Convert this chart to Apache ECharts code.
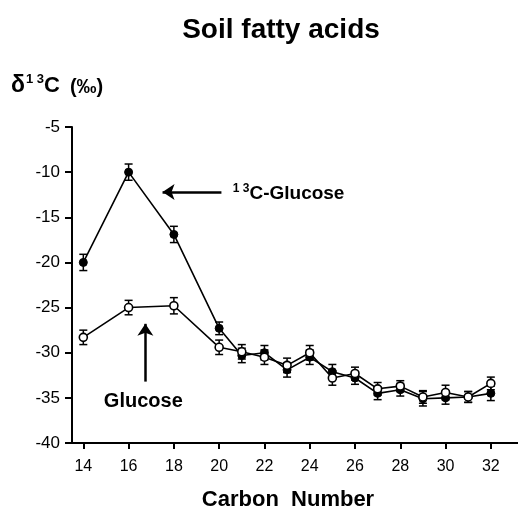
<!DOCTYPE html>
<html>
<head>
<meta charset="utf-8">
<script src="https://cdn.jsdelivr.net/npm/echarts@6/dist/echarts.min.js"></script>
<style>
  html, body { margin: 0; padding: 0; background: #fff; }
  #chart { width: 518px; height: 509px; }
</style>
</head>
<body>
<div id="chart"></div>
<script>
// carbon chain length of the fatty acids
var carbon = [14, 16, 18, 20, 21, 22, 23, 24, 25, 26, 27, 28, 29, 30, 31, 32];
// 13C-glucose treatment (filled circles)
var labelled = [-20, -10, -16.9, -27.3, -30.3, -30.0, -31.9, -30.5, -32.1, -32.8, -34.5, -34.1, -35.1, -35.0, -34.9, -34.5];
var labelledErr = [0.9, 0.9, 0.9, 0.7, 0.8, 0.8, 0.8, 0.8, 0.8, 0.7, 0.7, 0.7, 0.8, 0.7, 0.6, 0.8];
// unlabelled glucose (open circles)
var glucose = [-28.3, -25.0, -24.8, -29.4, -29.9, -30.5, -31.4, -30.0, -32.8, -32.3, -34.0, -33.7, -34.9, -34.4, -34.9, -33.4];
var glucoseErr = [0.8, 0.8, 0.9, 0.8, 0.8, 0.8, 0.8, 0.8, 0.8, 0.7, 0.7, 0.6, 0.7, 0.8, 0.6, 0.7];
var xTicks = [14, 16, 18, 20, 22, 24, 26, 28, 30, 32];

var FONT = "'Liberation Sans', Arial, Helvetica, sans-serif";

function pairs(ys) {
  return carbon.map(function (c, i) { return [c, ys[i]]; });
}
function errData(ys, es) {
  return carbon.map(function (c, i) { return [c, ys[i] - es[i], ys[i] + es[i]]; });
}

// error bar with small caps
function renderErr(params, api) {
  var lo = api.coord([api.value(0), api.value(1)]);
  var hi = api.coord([api.value(0), api.value(2)]);
  var w = 4;
  var st = { stroke: '#000', lineWidth: 1.5 };
  return {
    type: 'group',
    children: [
      { type: 'line', shape: { x1: lo[0], y1: lo[1], x2: hi[0], y2: hi[1] }, style: st },
      { type: 'line', shape: { x1: lo[0] - w, y1: lo[1], x2: lo[0] + w, y2: lo[1] }, style: st },
      { type: 'line', shape: { x1: hi[0] - w, y1: hi[1], x2: hi[0] + w, y2: hi[1] }, style: st }
    ]
  };
}

var chart = echarts.init(document.getElementById('chart'));
chart.setOption({
  animation: false,
  backgroundColor: '#fff',
  title: [
    {
      text: 'Soil fatty acids',
      left: 276,
      textAlign: 'center',
      top: 11,
      textStyle: { fontFamily: FONT, fontSize: 28, fontWeight: 'bold', color: '#000' }
    },
    {
      // y axis name
      text: '{d|δ}{s|1 3}{c|C}  {p|(‰)}',
      left: 6,
      top: 68,
      textStyle: {
        rich: {
          d: { fontFamily: FONT, fontSize: 23, fontWeight: 'bold', color: '#000', verticalAlign: 'bottom' },
          s: { fontFamily: FONT, fontSize: 13, fontWeight: 'bold', color: '#000', verticalAlign: 'top', padding: [0, 0, 11, 1] },
          c: { fontFamily: FONT, fontSize: 22, fontWeight: 'bold', color: '#000', verticalAlign: 'bottom' },
          p: { fontFamily: FONT, fontSize: 20, fontWeight: 'bold', color: '#000', verticalAlign: 'bottom' }
        }
      }
    }
  ],
  grid: { left: 72, right: 0, top: 127, bottom: 66, outerBoundsMode: 'none', containLabel: false },
  xAxis: {
    type: 'value',
    min: 13.5,
    max: 33.2,
    name: 'Carbon  Number',
    nameLocation: 'middle',
    nameGap: 46,
    nameMoveOverlap: false,
    nameTextStyle: { fontFamily: FONT, fontSize: 22, fontWeight: 'bold', color: '#000', padding: [0, 14, 0, 0] },
    axisLine: { lineStyle: { color: '#000', width: 2 } },
    axisTick: { show: true, length: 6, inside: false, customValues: xTicks, lineStyle: { color: '#000', width: 2 } },
    axisLabel: { customValues: xTicks, margin: 16, fontFamily: FONT, fontSize: 16, color: '#000' },
    splitLine: { show: false }
  },
  yAxis: {
    type: 'value',
    min: -40,
    max: -5,
    interval: 5,
    axisLine: { show: true, lineStyle: { color: '#000', width: 2 } },
    axisTick: { show: true, length: 7, lineStyle: { color: '#000', width: 2 } },
    axisLabel: { margin: 12, fontFamily: FONT, fontSize: 17, color: '#000' },
    splitLine: { show: false }
  },
  series: [
    {
      type: 'custom',
      renderItem: renderErr,
      data: errData(labelled, labelledErr),
      encode: { x: 0, y: [1, 2] },
      z: 2,
      silent: true
    },
    {
      type: 'custom',
      renderItem: renderErr,
      data: errData(glucose, glucoseErr),
      encode: { x: 0, y: [1, 2] },
      z: 2,
      silent: true
    },
    {
      name: '13C-Glucose',
      type: 'line',
      data: pairs(labelled),
      symbol: 'circle',
      symbolSize: 8,
      lineStyle: { color: '#000', width: 1.6 },
      itemStyle: { color: '#000', borderColor: '#000', borderWidth: 1 },
      z: 3,
      markLine: {
        silent: true,
        symbol: ['none', 'arrow'],
        symbolSize: 12,
        label: { show: false },
        lineStyle: { color: '#000', width: 2.5, type: 'solid' },
        data: [
          [{ coord: [20.1, -12.2] }, { coord: [17.5, -12.2] }],
          [{ coord: [16.74, -33.2] }, { coord: [16.74, -26.8] }]
        ]
      },
      markPoint: {
        silent: true,
        symbol: 'circle',
        symbolSize: 0,
        data: [
          {
            coord: [20.6, -12.3],
            label: {
              show: true,
              position: 'right',
              distance: 0,
              formatter: '{s|1 3}{t|C-Glucose}',
              rich: {
                s: { fontFamily: FONT, fontSize: 12, fontWeight: 'bold', color: '#000', verticalAlign: 'top', padding: [0, 0, 9, 0] },
                t: { fontFamily: FONT, fontSize: 19, fontWeight: 'bold', color: '#000', verticalAlign: 'bottom' }
              }
            }
          },
          {
            coord: [16.65, -35.4],
            label: {
              show: true,
              position: 'inside',
              formatter: 'Glucose',
              fontFamily: FONT,
              fontSize: 20,
              fontWeight: 'bold',
              color: '#000'
            }
          }
        ]
      }
    },
    {
      name: 'Glucose',
      type: 'line',
      data: pairs(glucose),
      symbol: 'circle',
      symbolSize: 8,
      lineStyle: { color: '#000', width: 1.6 },
      itemStyle: { color: '#fff', borderColor: '#000', borderWidth: 1.6 },
      z: 4
    }
  ]
});
</script>
</body>
</html>
